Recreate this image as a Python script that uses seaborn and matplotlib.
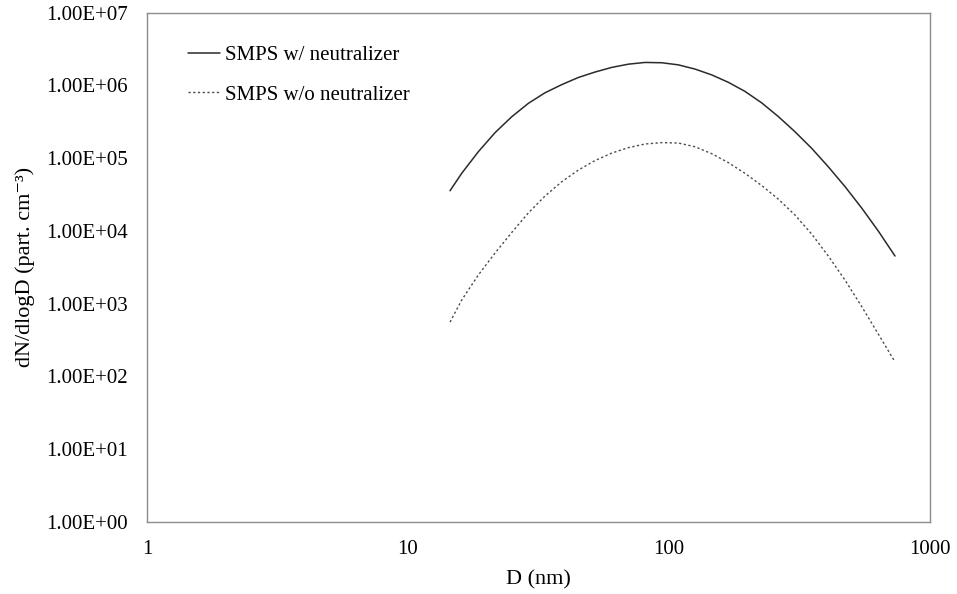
import matplotlib
matplotlib.use("Agg")
import matplotlib.pyplot as plt
import matplotlib.ticker as mticker
import pandas as pd
import seaborn as sns

# Mobility diameter bins (nm)
diameter = [14.49, 16.06, 18.59, 21.54, 24.96, 28.90, 33.49, 38.80, 44.94,
            52.06, 60.32, 69.86, 80.91, 93.76, 108.5, 125.8, 145.7, 168.7,
            195.5, 226.6, 262.3, 303.9, 352.2, 407.7, 472.4, 547.3, 633.8, 734.4]

# dN/dlogD (part. cm^-3) with the neutralizer in line
n_with = [3.56e4, 6.17e4, 1.22e5, 2.23e5, 3.69e5, 5.64e5, 7.89e5, 1.02e6,
          1.28e6, 1.52e6, 1.76e6, 1.95e6, 2.06e6, 2.04e6, 1.91e6, 1.67e6,
          1.39e6, 1.10e6, 8.24e5, 5.73e5, 3.72e5, 2.30e5, 1.36e5, 7.59e4,
          4.06e4, 2.06e4, 9.94e3, 4.51e3]

# dN/dlogD (part. cm^-3) without the neutralizer
n_without = [559, 1.12e3, 2.47e3, 4.95e3, 9.48e3, 1.76e4, 3.01e4, 4.72e4,
             6.84e4, 9.24e4, 1.17e5, 1.39e5, 1.56e5, 1.63e5, 1.61e5, 1.43e5,
             1.15e5, 8.67e4, 6.17e4, 4.19e4, 2.73e4, 1.65e4, 9.03e3, 4.51e3,
             2.11e3, 912, 382, 158]

label_with = "SMPS w/ neutralizer"
label_without = "SMPS w/o neutralizer"

x_ticks = [1, 10, 100, 1000]
y_ticks = [1e0, 1e1, 1e2, 1e3, 1e4, 1e5, 1e6, 1e7]

sns.set_theme(style="white")
plt.rcParams["font.family"] = ["Liberation Serif", "DejaVu Serif"]

df_with = pd.DataFrame({"D": diameter, "N": n_with})
df_without = pd.DataFrame({"D": diameter, "N": n_without})

fig = plt.figure(figsize=(9.57, 5.94), dpi=100)
ax = fig.add_axes([147 / 957, 1 - 522 / 594, (930 - 147) / 957, (522 - 12.5) / 594])

sns.lineplot(data=df_with, x="D", y="N", ax=ax, color="#2b2b2b", lw=1.1,
             label=label_with, sort=False)
sns.lineplot(data=df_without, x="D", y="N", ax=ax, color="#4a4a4a", lw=1.0,
             label=label_without, sort=False, linestyle=(0, (1.6, 1.8)))

ax.set_xscale("log")
ax.set_yscale("log")
ax.set_xlim(1, 1000)
ax.set_ylim(1, 1e7)
ax.set_xticks(x_ticks)
ax.set_yticks(y_ticks)
ax.xaxis.set_major_formatter(mticker.FixedFormatter([str(v) for v in x_ticks]))
ax.yaxis.set_major_formatter(mticker.FixedFormatter([f"{v:.2E}" for v in y_ticks]))
ax.xaxis.set_minor_locator(mticker.NullLocator())
ax.yaxis.set_minor_locator(mticker.NullLocator())

ax.tick_params(axis="both", direction="in", length=5, width=1, color="#8c8c8c",
               labelsize=15, labelcolor="black")
ax.tick_params(axis="y", pad=14)
ax.tick_params(axis="x", pad=13)

for sp in ax.spines.values():
    sp.set_color("#8c8c8c")
    sp.set_linewidth(1.0)

ax.set_xlabel("D (nm)", fontsize=16, color="black", labelpad=8)
ax.set_ylabel("dN/dlogD (part. cm\u207b\u00b3)", fontsize=16,
              color="black", labelpad=8)

leg = ax.legend(loc="upper left", bbox_to_anchor=(0.052, 0.935), frameon=False,
                fontsize=15, handlelength=1.55, handletextpad=0.25,
                labelspacing=0.95, borderpad=0, borderaxespad=0)
for t in leg.get_texts():
    t.set_color("black")

fig.savefig("out.png", dpi=100)
